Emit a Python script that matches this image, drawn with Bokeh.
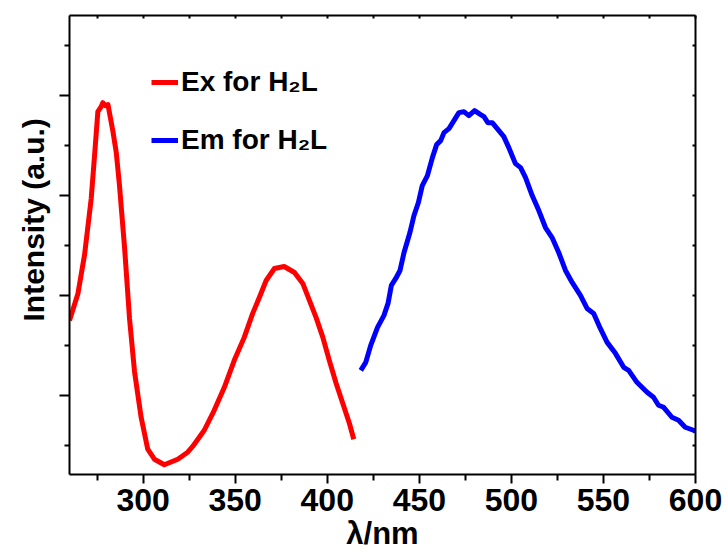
from bokeh.plotting import figure
from bokeh.models import (Range1d, LinearAxis, FixedTicker, Legend, LegendItem, Title)
from bokeh.embed import file_html
from bokeh.resources import INLINE

# Excitation spectrum (red)
ex_wl = [260, 264.6, 268.2, 271.8, 273.6, 275.4, 277.2, 278.1, 279.5, 280.9,
         283.6, 285.4, 287.1, 289.9, 292.6, 295.3, 298.9, 302.5, 306.1, 311.5,
         318.8, 324.2, 327.0, 333.2, 338.6, 344.1, 349.5, 354.9, 359.5, 363.1,
         366.8, 371.3, 376.6, 382.2, 386.7, 390.3, 393.9, 397.6, 401.1, 404.8,
         408.4, 412.0, 414.4]
ex_int = [1.75, 2.02, 2.41, 2.97, 3.40, 3.84, 3.89, 3.93, 3.90, 3.91,
          3.64, 3.43, 3.11, 2.48, 1.77, 1.24, 0.78, 0.46, 0.36, 0.305,
          0.36, 0.43, 0.49, 0.65, 0.85, 1.08, 1.35, 1.58, 1.82, 1.98,
          2.15, 2.27, 2.29, 2.23, 2.12, 1.95, 1.78, 1.58, 1.35, 1.12,
          0.92, 0.72, 0.56]

# Emission spectrum (blue)
em_wl = [418.2, 420.9, 423.6, 427.3, 430.8, 433.0, 434.8, 437.2, 439.5, 441.7,
         444.9, 447.1, 449.5, 451.6, 454.4, 457.1, 459.4, 461.6, 463.4, 466.1,
         468.8, 471.5, 474.2, 476.9, 480.0, 483.3, 485.1, 487.2, 489.6, 493.2,
         495.9, 498.6, 502.2, 505.0, 507.7, 511.3, 514.9, 518.5, 522.1, 525.7,
         529.4, 533.0, 537.5, 541.1, 544.7, 548.3, 552.0, 556.5, 561.0, 563.7,
         568.2, 573.7, 577.2, 579.9, 582.7, 587.2, 590.8, 594.4, 598.9, 600]
em_int = [1.25, 1.33, 1.50, 1.68, 1.80, 1.92, 2.10, 2.17, 2.25, 2.43,
          2.63, 2.80, 2.93, 3.10, 3.20, 3.38, 3.51, 3.55, 3.63, 3.67,
          3.75, 3.83, 3.84, 3.80, 3.85, 3.81, 3.79, 3.73, 3.73, 3.65,
          3.59, 3.48, 3.32, 3.28, 3.18, 3.00, 2.85, 2.68, 2.58, 2.43,
          2.25, 2.13, 2.00, 1.87, 1.82, 1.67, 1.53, 1.42, 1.28, 1.25,
          1.13, 1.03, 0.98, 0.90, 0.88, 0.78, 0.75, 0.68, 0.65, 0.64]

x_major = [300, 350, 400, 450, 500, 550, 600]
x_minor = [275, 325, 375, 425, 475, 525, 575]
y_major = [1, 2, 3, 4]
y_minor = [0.5, 1.5, 2.5, 3.5, 4.5]

labels = ["Ex for H\u2082L", "Em for H\u2082L"]
x_title = "\u03bb/nm"
y_title = "Intensity (a.u.)"

FONT = "Liberation Sans"

p = figure(width=727, height=554, output_backend="svg", toolbar_location=None,
           x_range=Range1d(260, 600), y_range=Range1d(0.207, 4.803),
           x_axis_location=None, y_axis_location=None,
           min_border_left=69, min_border_right=32, min_border_top=15,
           min_border_bottom=80)
p.grid.visible = False
p.outline_line_color = None
p.background_fill_color = "white"
p.border_fill_color = "white"

r1 = p.line(ex_wl, ex_int, line_color="#ff0000", line_width=5, line_join="round")
r2 = p.line(em_wl, em_int, line_color="#0000ff", line_width=5, line_join="round")

def style(ax, ticker):
    ax.ticker = ticker
    ax.axis_line_width = 2
    ax.axis_line_color = "black"
    ax.major_tick_line_width = 2
    ax.minor_tick_line_width = 2
    ax.major_label_text_font = FONT
    ax.major_label_text_font_style = "bold"
    ax.major_label_text_color = "black"

def blank(ax, ticks):
    ax.major_label_overrides = {t: "" for t in ticks}
    ax.major_label_standoff = 0

xt = FixedTicker(ticks=x_major, minor_ticks=x_minor)
yt = FixedTicker(ticks=y_major, minor_ticks=y_minor)

xb = LinearAxis()
style(xb, xt)
xb.major_tick_out = 9
xb.major_tick_in = 0
xb.minor_tick_out = 6
xb.minor_tick_in = 0
xb.major_label_text_font_size = "32px"
xb.major_label_standoff = 5
p.add_layout(xb, "below")

yl = LinearAxis()
style(yl, yt)
yl.major_tick_out = 10
yl.major_tick_in = 0
yl.minor_tick_out = 5
yl.minor_tick_in = 0
blank(yl, y_major)
p.add_layout(yl, "left")

xa = LinearAxis()
style(xa, xt)
xa.major_tick_out = 0
xa.major_tick_in = 3
xa.minor_tick_out = 0
xa.minor_tick_in = 3
blank(xa, x_major)
p.add_layout(xa, "above")

yr = LinearAxis()
style(yr, yt)
yr.major_tick_out = 0
yr.major_tick_in = 3
yr.minor_tick_out = 0
yr.minor_tick_in = 3
blank(yr, y_major)
p.add_layout(yr, "right")

ytitle = Title(text=y_title, align="left", offset=153, standoff=19,
               text_font=FONT, text_font_style="bold", text_font_size="30px",
               text_color="black")
xtitle = Title(text=x_title, align="center", offset=5, standoff=0,
               text_font=FONT, text_font_style="bold", text_font_size="31px",
               text_color="black")
p.add_layout(ytitle, "left")
p.add_layout(xtitle, "below")

legend = Legend(items=[LegendItem(label=labels[0], renderers=[r1]),
                       LegendItem(label=labels[1], renderers=[r2])],
                location=(82, 318), padding=0, margin=0, spacing=26,
                glyph_width=27, glyph_height=30, label_height=30,
                label_standoff=3, border_line_color=None,
                background_fill_alpha=0,
                label_text_font=FONT, label_text_font_style="bold",
                label_text_font_size="28px", label_text_color="black")
p.add_layout(legend)

open("out.html", "w").write(file_html(p, INLINE))
